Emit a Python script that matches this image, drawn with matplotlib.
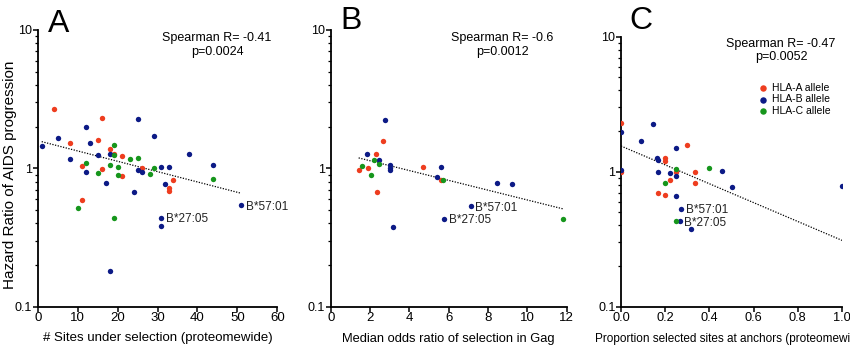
import matplotlib
matplotlib.use('Agg')
import matplotlib.pyplot as plt
from matplotlib.ticker import LogLocator, NullFormatter, FixedLocator

plt.rcParams['font.family'] = ['Liberation Sans', 'DejaVu Sans']

# ---- data ----
# panel A: # sites under selection (proteomewide)
a_red_x = [4, 8, 11, 11, 15, 16, 16, 18, 19, 21, 21, 26, 33, 33, 34]
a_red_y = [2.67, 1.52, 1.04, 0.59, 1.59, 2.33, 0.99, 1.39, 1.28, 1.22, 0.88, 1.0, 0.72, 0.685, 0.83]
a_blue_x = [1, 5, 8, 12, 12, 13, 15, 17, 18, 18, 24, 25, 25, 26, 29, 31, 31, 31, 32, 33, 38, 44, 51]
a_blue_y = [1.45, 1.65, 1.17, 1.98, 0.94, 1.52, 1.24, 0.79, 1.27, 0.18, 0.67, 2.26, 0.98, 0.94,
            1.70, 1.03, 0.44, 0.38, 0.775, 1.02, 1.28, 1.06, 0.54]
a_green_x = [10, 12, 15, 18, 19, 19, 19, 20, 20, 23, 25, 28, 29, 44]
a_green_y = [0.52, 1.09, 0.92, 1.06, 1.47, 1.25, 0.435, 1.02, 0.89, 1.16, 1.18, 0.91, 1.01, 0.84]
a_trend_x = [1, 51]
a_trend_y = [1.56, 0.66]

# panel B: median odds ratio of selection in Gag
b_red_x = [1.42, 1.88, 2.32, 2.34, 2.66, 4.69, 5.59]
b_red_y = [0.98, 1.0, 1.26, 0.68, 1.58, 1.03, 0.82]
b_blue_x = [1.86, 2.46, 2.78, 3.0, 3.0, 3.0, 3.19, 5.41, 5.61, 5.78, 7.12, 8.44, 9.24]
b_blue_y = [1.28, 1.155, 2.25, 1.05, 1.0, 0.97, 0.377, 0.87, 1.02, 0.43, 0.53, 0.79, 0.775]
b_green_x = [1.59, 2.07, 2.22, 2.47, 5.69, 11.8]
b_green_y = [1.045, 0.90, 1.14, 1.075, 0.83, 0.43]
b_trend_x = [1.42, 11.8]
b_trend_y = [1.19, 0.51]

# panel C: proportion selected sites at anchors
c_red_x = [0, 0, 0.167, 0.2, 0.2, 0.2, 0.222, 0.25, 0.3, 0.333, 0.333]
c_red_y = [2.31, 1.0, 0.70, 1.26, 1.21, 0.67, 0.87, 0.99, 1.58, 0.99, 0.82]
c_blue_x = [0, 0, 0.091, 0.143, 0.163, 0.167, 0.167, 0.222, 0.25, 0.25, 0.25, 0.273, 0.267,
            0.318, 0.455, 0.5, 1.0]
c_blue_y = [1.98, 1.03, 1.69, 2.24, 1.27, 1.22, 1.0, 0.97, 1.50, 0.93, 0.66, 0.53, 0.43,
            0.374, 1.02, 0.77, 0.78]
c_green_x = [0.2, 0.25, 0.25, 0.4]
c_green_y = [0.83, 1.04, 0.43, 1.07]
c_trend_x = [0, 1.0]
c_trend_y = [1.55, 0.31]

stats = ['Spearman R= -0.41\np=0.0024', 'Spearman R= -0.6\np=0.0012', 'Spearman R= -0.47\np=0.0052']
xlabels = ['# Sites under selection (proteomewide)', 'Median odds ratio of selection in Gag',
           'Proportion selected sites at anchors (proteomewide)']
letters = ['A', 'B', 'C']
# labelled alleles: (panel, x, y, text)
labelled = [(0, 51, 0.54, 'B*57:01'), (0, 31, 0.44, 'B*27:05'),
            (1, 7.12, 0.53, 'B*57:01'), (1, 5.78, 0.43, 'B*27:05'),
            (2, 0.273, 0.53, 'B*57:01'), (2, 0.267, 0.43, 'B*27:05')]

RED = '#ee3d1f'
BLUE = '#0c1a86'
GREEN = '#16961c'

W, H = 850, 348
fig = plt.figure(figsize=(8.5, 3.48), dpi=100)


def px_rect(x0, x1, ytop, ybot):
    return [x0 / W, 1 - ybot / H, (x1 - x0) / W, (ybot - ytop) / H]


axA = fig.add_axes(px_rect(37.7, 277.3, 30, 306.7))
axB = fig.add_axes(px_rect(330.7, 566.7, 30, 306.7))
axC = fig.add_axes(px_rect(621, 842, 36.7, 306.7))
axes = [axA, axB, axC]

panels = [
    (a_red_x, a_red_y, a_blue_x, a_blue_y, a_green_x, a_green_y, a_trend_x, a_trend_y),
    (b_red_x, b_red_y, b_blue_x, b_blue_y, b_green_x, b_green_y, b_trend_x, b_trend_y),
    (c_red_x, c_red_y, c_blue_x, c_blue_y, c_green_x, c_green_y, c_trend_x, c_trend_y),
]
xlims = [(0, 60), (0, 12), (0, 1.0)]
xticks = [[0, 10, 20, 30, 40, 50, 60], [0, 2, 4, 6, 8, 10, 12], [0, 0.2, 0.4, 0.6, 0.8, 1.0]]
xtick_fmt = ['{:g}', '{:g}', '{:.1f}']
xtick_fs = [9.5, 9.5, 9.2]
xlab_fs = [9.5, 9.3, 8.5]
xlab_y = [-0.09, -0.095, -0.097]

for i, ax in enumerate(axes):
    rx, ry, bx, by, gx, gy, tx, ty = panels[i]
    ax.plot(tx, ty, color='black', lw=0.9, ls=(0, (1, 1.2)), zorder=2)
    ax.scatter(rx, ry, s=15, color=RED, lw=0, zorder=3, label='HLA-A allele')
    ax.scatter(bx, by, s=15, color=BLUE, lw=0, zorder=3, label='HLA-B allele')
    ax.scatter(gx, gy, s=15, color=GREEN, lw=0, zorder=3, label='HLA-C allele')

    ax.set_yscale('log')
    ax.set_ylim(0.1, 10)
    ax.set_xlim(*xlims[i])
    ax.yaxis.set_major_locator(FixedLocator([0.1, 1, 10]))
    ax.set_yticklabels(['0.1', '1', '10'])
    ax.yaxis.set_minor_locator(LogLocator(base=10, subs=range(2, 10)))
    ax.yaxis.set_minor_formatter(NullFormatter())
    ax.set_xticks(xticks[i])
    ax.set_xticklabels([xtick_fmt[i].format(v) for v in xticks[i]])

    for side in ['top', 'right']:
        ax.spines[side].set_visible(False)
    for side in ['left', 'bottom']:
        ax.spines[side].set_linewidth(1.3)
    ax.tick_params(axis='both', which='major', direction='out', length=3.5, width=1.1, pad=0.5)
    ax.tick_params(axis='x', labelsize=xtick_fs[i])
    ax.tick_params(axis='y', labelsize=9)
    ax.tick_params(axis='y', which='minor', direction='out', length=2.2, width=0.9)
    ax.patch.set_visible(False)

    ax.set_xlabel(xlabels[i], fontsize=xlab_fs[i])
    ax.xaxis.set_label_coords(0.5, xlab_y[i])

# positions of the statistics and panel letters (pixels)
stat_pos = [(217, 45), (502, 45), (781, 50.5)]
letter_pos = [(48, 32), (340, 29), (629, 29)]
for i in range(3):
    fig.text(stat_pos[i][0] / W, 1 - stat_pos[i][1] / H, stats[i], ha='center', va='center',
             fontsize=9, linespacing=1.15)
    fig.text(letter_pos[i][0] / W, 1 - letter_pos[i][1] / H, letters[i],
             fontsize=23, ha='left', va='baseline')

for p, x, y, txt in labelled:
    axes[p].annotate(txt, (x, y), xytext=(3.2, -1), textcoords='offset points',
                     ha='left', va='center', fontsize=8.5, color='#222222')

axA.set_ylabel('Hazard Ratio of AIDS progression', fontsize=11)
axA.yaxis.set_label_coords(-0.086, 0.476)

axC.legend(loc='upper left', bbox_to_anchor=(759 / W, 1 - 83 / H), bbox_transform=fig.transFigure,
           frameon=False, fontsize=7.5, handlelength=0.8, handletextpad=0.4, labelspacing=0.12,
           borderpad=0, borderaxespad=0, markerscale=1.2)

fig.savefig('out.png', dpi=100)
